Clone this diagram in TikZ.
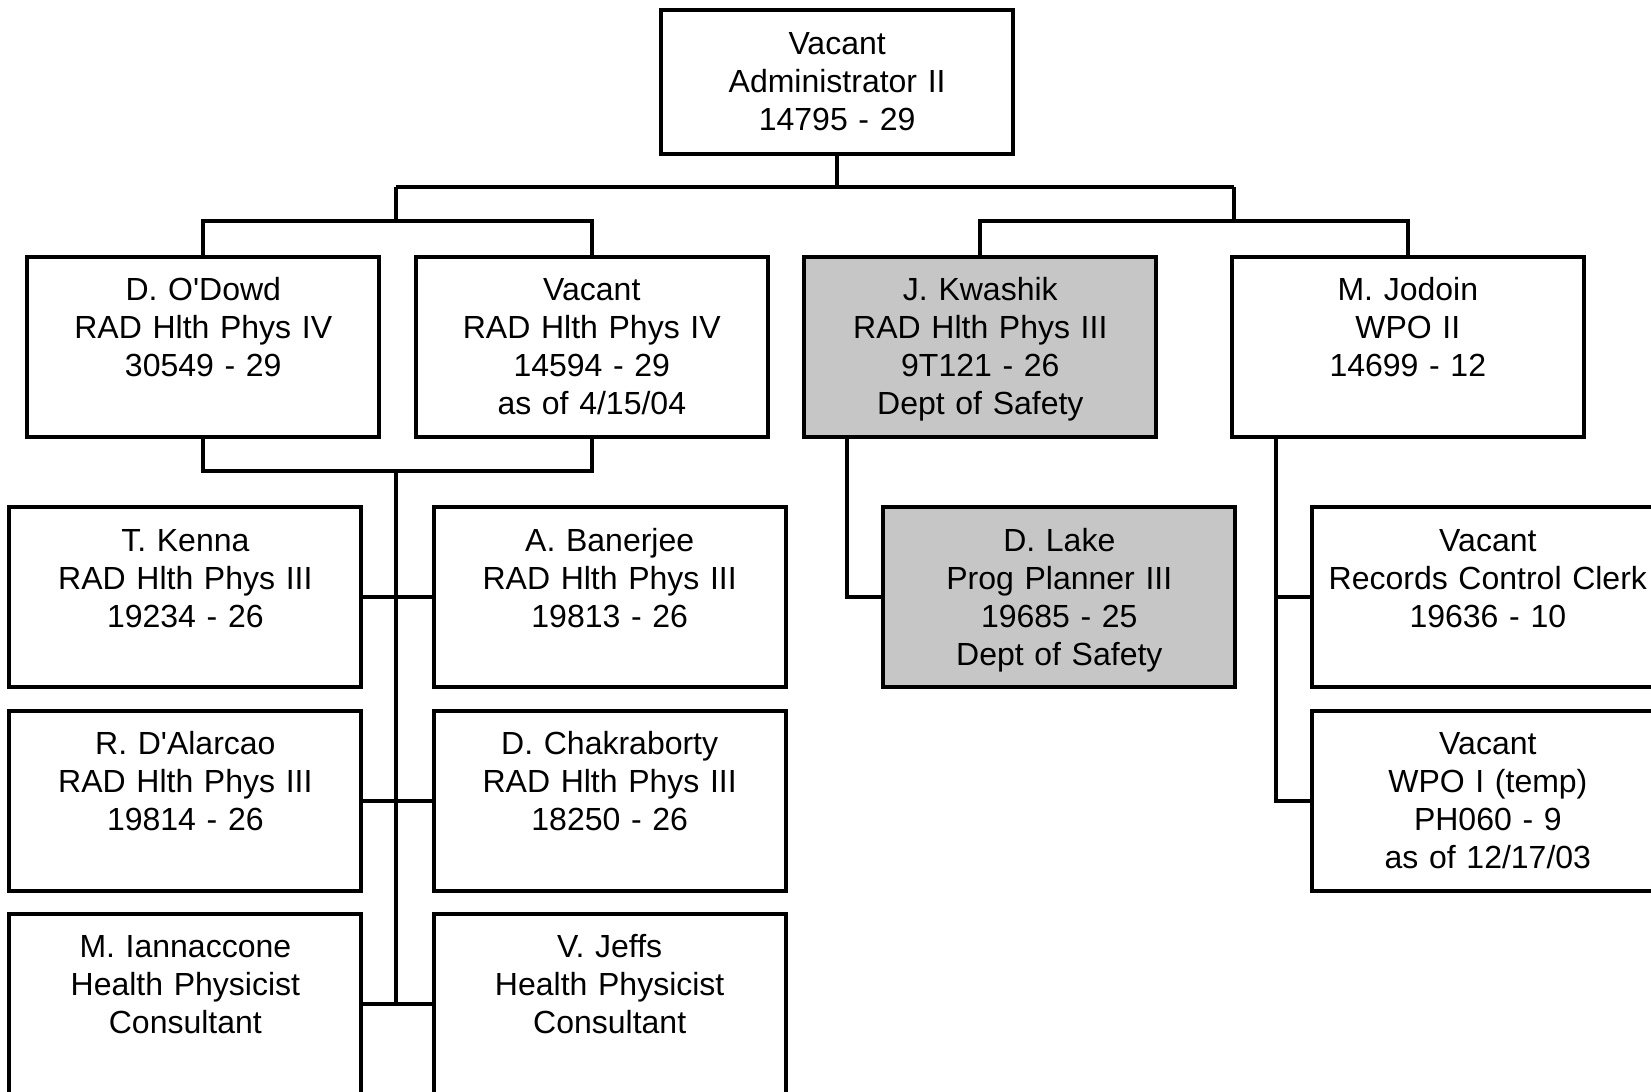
\documentclass[tikz,border=0pt]{standalone}
\usepackage{fontspec}
\setmainfont{Liberation Sans}
\usetikzlibrary{calc}

\tikzset{
  posbox/.style={draw, line width=2pt, anchor=north west, inner sep=0pt,
    text width=176pt, align=center, text height=22pt, text depth=68pt,
    font=\fontsize{16}{19}\selectfont},
  topbox/.style={posbox, text depth=49.6pt},
  safetybox/.style={posbox, fill=gray!45},
  link/.style={line width=2pt}
}

\begin{document}
\begin{tikzpicture}[x=0.5265pt, y=-0.5265pt]

    \useasboundingbox (0,0) rectangle (1568,1037);

    % boxes
    \node[topbox] (admin) at (626,8) {Vacant\\Administrator II\\14795 - 29};

    \node[posbox] (odowd) at (24,242) {D. O\textquotesingle Dowd\\RAD Hlth Phys IV\\30549 - 29};
    \node[posbox] (vacantiv) at (393,242) {Vacant\\RAD Hlth Phys IV\\14594 - 29\\as of 4/15/04};
    \node[safetybox] (kwashik) at (762,242) {J. Kwashik\\RAD Hlth Phys III\\9T121 - 26\\Dept of Safety};
    \node[posbox] (jodoin) at (1168,242) {M. Jodoin\\WPO II\\14699 - 12};

    \node[posbox] (kenna) at (7,480) {T. Kenna\\RAD Hlth Phys III\\19234 - 26};
    \node[posbox] (banerjee) at (410,480) {A. Banerjee\\RAD Hlth Phys III\\19813 - 26};
    \node[safetybox] (lake) at (837,480) {D. Lake\\Prog Planner III\\19685 - 25\\Dept of Safety};
    \node[posbox] (records) at (1244,480) {Vacant\\Records Control Clerk\\19636 - 10};

    \node[posbox] (dalarcao) at (7,673) {R. D\textquotesingle Alarcao\\RAD Hlth Phys III\\19814 - 26};
    \node[posbox] (chakraborty) at (410,673) {D. Chakraborty\\RAD Hlth Phys III\\18250 - 26};
    \node[posbox] (wpoi) at (1244,673) {Vacant\\WPO I (temp)\\PH060 - 9\\as of 12/17/03};

    \node[posbox] (iannaccone) at (7,866) {M. Iannaccone\\Health Physicist\\Consultant};
    \node[posbox] (jeffs) at (410,866) {V. Jeffs\\Health Physicist\\Consultant};

    % junctions
    \coordinate (busL) at (376,178);
    \coordinate (busR) at (1172,178);
    \coordinate (forkL) at (376,210);
    \coordinate (forkR) at (1172,210);
    \coordinate (hub) at (376,447);
    \coordinate (kspine) at ($(kwashik.south west)+(42,0)$);
    \coordinate (jspine) at ($(jodoin.south west)+(44,0)$);

    % lines
    \draw[link] (admin.south) -- (admin.south |- busL);
    \draw[link] (busL) -- (busR);
    \draw[link] (busL) -- (forkL);
    \draw[link] (busR) -- (forkR);
    \draw[link] (odowd.north) |- (forkL) -| (vacantiv.north);
    \draw[link] (kwashik.north) |- (forkR) -| (jodoin.north);

    \draw[link] (odowd.south) |- (hub) -| (vacantiv.south);
    \draw[link] (hub) -- (hub |- iannaccone.east);
    \draw[link] (kenna.east) -- (banerjee.west);
    \draw[link] (dalarcao.east) -- (chakraborty.west);
    \draw[link] (iannaccone.east) -- (jeffs.west);

    \draw[link] (kspine) |- (lake.west);
    \draw[link] (jspine) |- (wpoi.west);
    \draw[link] (records.west) -- (records.west -| jspine);

\end{tikzpicture}
\end{document}
